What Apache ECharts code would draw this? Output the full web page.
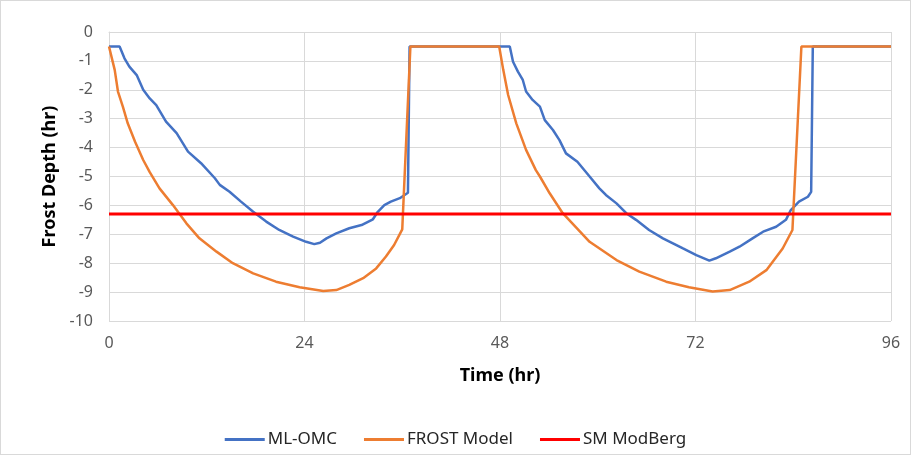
<!DOCTYPE html>
<html>
<head>
<meta charset="utf-8">
<script src="https://cdn.jsdelivr.net/npm/echarts@6/dist/echarts.min.js"></script>
<style>
html,body{margin:0;padding:0;background:#fff;}
#frame{position:absolute;left:0;top:0;width:909px;height:453px;border:1px solid #d9d9d9;}
#chart{position:absolute;left:0;top:0;width:911px;height:461px;}
</style>
</head>
<body>
<div id="frame"></div>
<div id="chart"></div>
<script>
const xTicks = [0, 24, 48, 72, 96];
const yTicks = [0, -1, -2, -3, -4, -5, -6, -7, -8, -9, -10];

const mlOmc = [
  [0,-0.5],[1.3,-0.5],[1.9,-0.91],[2.5,-1.2],[3.4,-1.49],[4.2,-2.0],[5.0,-2.3],[5.8,-2.53],
  [7.0,-3.1],[8.3,-3.5],[9.7,-4.14],[11.3,-4.54],[13.0,-5.06],[13.6,-5.29],[14.8,-5.53],
  [16.2,-5.87],[17.7,-6.22],[19.3,-6.56],[20.9,-6.85],[22.6,-7.08],[24.2,-7.26],[25.2,-7.34],
  [25.9,-7.29],[26.7,-7.14],[27.9,-6.97],[29.5,-6.79],[31.0,-6.68],[32.4,-6.48],[33.0,-6.22],
  [33.8,-5.99],[34.6,-5.87],[35.7,-5.75],[36.7,-5.56],[36.9,-0.5],[49.2,-0.5],
  [49.6,-1.03],[50.2,-1.37],[50.8,-1.66],[51.2,-2.06],[52.0,-2.35],[52.9,-2.58],[53.5,-3.05],
  [54.5,-3.39],[55.3,-3.74],[56.1,-4.2],[57.5,-4.49],[59.0,-5.0],[60.2,-5.41],[61.0,-5.64],
  [62.3,-5.93],[63.5,-6.27],[64.7,-6.5],[66.3,-6.85],[68.0,-7.14],[70.4,-7.48],[72.1,-7.72],
  [73.7,-7.91],[74.5,-7.83],[76.2,-7.6],[77.4,-7.43],[79.0,-7.14],[80.3,-6.91],[81.9,-6.74],
  [83.1,-6.5],[83.7,-6.16],[84.7,-5.87],[85.8,-5.70],[86.2,-5.53],[86.4,-0.5],[96,-0.5]
];

const frostModel = [
  [0,-0.5],[0.7,-1.31],[1.1,-2.06],[1.7,-2.58],[2.3,-3.16],[3.2,-3.8],[4.2,-4.43],[5.0,-4.85],
  [6.2,-5.41],[7.85,-5.99],[9.5,-6.62],[11.1,-7.14],[13.2,-7.6],[15.2,-8.0],[17.7,-8.35],
  [20.5,-8.64],[23.4,-8.83],[26.3,-8.96],[27.9,-8.93],[29.5,-8.75],[31.2,-8.52],[32.8,-8.18],
  [34.0,-7.77],[35.0,-7.37],[36.0,-6.83],[37.0,-0.5],[47.9,-0.5],
  [48.4,-1.31],[49.0,-2.18],[50.0,-3.16],[51.2,-4.08],[52.4,-4.78],[52.9,-5.0],[54.1,-5.58],
  [55.7,-6.27],[59.0,-7.26],[62.3,-7.89],[65.1,-8.29],[68.4,-8.64],[71.2,-8.83],[74.1,-8.98],
  [76.2,-8.93],[78.6,-8.64],[80.7,-8.24],[82.7,-7.49],[83.9,-6.85],[85.0,-0.5],[96,-0.5]
];

const smModBerg = [[0,-6.3],[96,-6.3]];

const FONT = "'Noto Sans', 'Open Sans', sans-serif";
const chart = echarts.init(document.getElementById('chart'));
chart.setOption({
  animation: false,
  backgroundColor: 'transparent',
  grid: {left: 109, right: 20, top: 32, bottom: 140, containLabel: false},
  legend: {
    left: 'center', top: 426,
    icon: 'rect', itemWidth: 40, itemHeight: 3, itemGap: 27,
    textStyle: {fontFamily: FONT, fontSize: 17, color: '#262626', padding: [0,0,0,-2]},
    data: ['ML-OMC', 'FROST Model', 'SM ModBerg']
  },
  xAxis: {
    type: 'value', min: xTicks[0], max: xTicks[xTicks.length-1], interval: 24,
    name: 'Time (hr)', nameLocation: 'middle', nameGap: 46,
    nameTextStyle: {fontFamily: FONT, fontSize: 18, fontWeight: 'bold', color: '#000'},
    axisLine: {show: true, lineStyle: {color: '#d9d9d9', width: 1}},
    axisTick: {show: false},
    axisLabel: {fontFamily: FONT, fontSize: 16, color: '#595959', margin: 14},
    splitLine: {show: true, lineStyle: {color: '#d9d9d9', width: 1}}
  },
  yAxis: {
    type: 'value', min: yTicks[yTicks.length-1], max: yTicks[0], interval: 1,
    name: 'Frost Depth (hr)', nameLocation: 'middle', nameGap: 50, nameRotate: 90,
    nameTextStyle: {fontFamily: FONT, fontSize: 18, fontWeight: 'bold', color: '#000'},
    axisLine: {show: true, onZero: false, lineStyle: {color: '#d9d9d9', width: 1}},
    axisTick: {show: false},
    axisLabel: {fontFamily: FONT, fontSize: 16, color: '#595959', margin: 16},
    splitLine: {show: true, lineStyle: {color: '#d9d9d9', width: 1}}
  },
  series: [
    {name: 'ML-OMC', type: 'line', data: mlOmc, showSymbol: false, symbol: 'none',
     lineStyle: {color: '#4472C4', width: 2.5}, itemStyle: {color: '#4472C4'}, z: 2},
    {name: 'FROST Model', type: 'line', data: frostModel, showSymbol: false, symbol: 'none',
     lineStyle: {color: '#ED7D31', width: 2.5}, itemStyle: {color: '#ED7D31'}, z: 3},
    {name: 'SM ModBerg', type: 'line', data: smModBerg, showSymbol: false, symbol: 'none',
     lineStyle: {color: '#FF0000', width: 3}, itemStyle: {color: '#FF0000'}, z: 4}
  ]
});
</script>
</body>
</html>
